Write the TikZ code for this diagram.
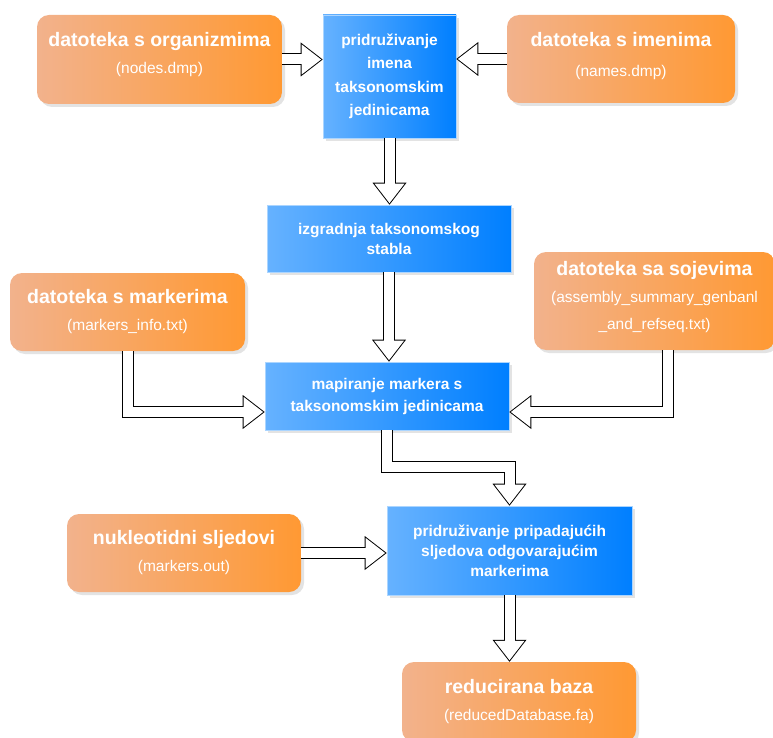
\documentclass[tikz,border=0pt]{standalone}
\usepackage{fontspec}
\setmainfont{Liberation Sans}
\usepackage{tikz}
\usetikzlibrary{arrows.meta,shadows}
\definecolor{orangeL}{HTML}{F2B28C}
\definecolor{orangeR}{HTML}{FF9933}
\definecolor{blueL}{HTML}{66B2FF}
\definecolor{blueR}{HTML}{007FFF}

\begin{document}
\begin{tikzpicture}[x=1pt,y=-1pt,inner sep=0pt,
    file node/.style={rectangle,rounded corners=12pt,left color=orangeL,right color=orangeR,
      text=white,align=center,font=\fontsize{15.5}{27}\selectfont,
      drop shadow={shadow xshift=3pt,shadow yshift=-3pt,fill=black!22}},
    task node/.style={rectangle,left color=blueL,right color=blueR,draw=blueL!55!white,
      line width=0.6pt,text=white,align=center,font=\bfseries\fontsize{15.5}{20}\selectfont,
      drop shadow={shadow xshift=3pt,shadow yshift=-3pt,fill=black!22}},
    flow/.style={line width=12pt,-{Triangle[width=34pt,length=22pt,line width=0pt]},
      postaction={draw=white,line width=10pt,shorten >=1.6pt,
        -{Triangle[width=30pt,length=19.4pt,line width=0pt]}}}]

  \useasboundingbox (0,0) rectangle (773,738);

  % input files
  \node[file node,minimum width=245pt,minimum height=89pt,text depth=14pt] (org) at (159.5,59.5)
    {{\bfseries\fontsize{19.5}{27}\selectfont datoteka s organizmima}\\(nodes.dmp)};
  \node[file node,minimum width=228pt,minimum height=88pt,text depth=10pt] (imena) at (621,59)
    {{\bfseries\fontsize{19.5}{29}\selectfont datoteka s imenima}\\[3pt](names.dmp)};
  \node[file node,minimum width=235pt,minimum height=78pt] (marker) at (127.5,312)
    {{\bfseries\fontsize{19.5}{27}\selectfont datoteka s markerima}\\(markers\_info.txt)};
  \node[file node,minimum width=241pt,minimum height=98pt,text depth=12pt] (sojevi) at (654.5,301)
    {{\bfseries\fontsize{19.5}{27}\selectfont datoteka sa sojevima}\\(assembly\_summary\_genbanl\\\_and\_refseq.txt)};
  \node[file node,minimum width=234pt,minimum height=78pt] (nukleo) at (184,553)
    {{\bfseries\fontsize{19.5}{27}\selectfont nukleotidni sljedovi}\\(markers.out)};
  \node[file node,minimum width=234pt,minimum height=80pt] (baza) at (519,702)
    {{\bfseries\fontsize{19.5}{27}\selectfont reducirana baza}\\(reducedDatabase.fa)};

  % processing steps
  \node[task node,minimum width=133pt,minimum height=123pt,font=\bfseries\fontsize{15.5}{23.5}\selectfont] (imenovanje) at (389.5,76.5)
    {pridruživanje\\imena\\taksonomskim\\jedinicama};
  \node[task node,minimum width=244pt,minimum height=67pt] (stablo) at (389,238.5)
    {izgradnja taksonomskog\\stabla};
  \node[task node,minimum width=244pt,minimum height=68pt,font=\bfseries\fontsize{15.5}{22}\selectfont] (mapiranje) at (387,396)
    {mapiranje markera s\\taksonomskim jedinicama};
  \node[task node,minimum width=245pt,minimum height=89pt] (sljedovi) at (509.5,550.5)
    {pridruživanje pripadajućih\\sljedova odgovarajućim\\markerima};

  % flow
  \draw[flow] (org.east) -- (org.east -| imenovanje.west);
  \draw[flow] (imena.west) -- (imena.west -| imenovanje.east);
  \draw[flow] (imenovanje.south) -- (imenovanje.south |- stablo.north);
  \draw[flow] (stablo.south) -- (stablo.south |- mapiranje.north);
  \draw[flow] (marker.south) |- ([yshift=-16pt]mapiranje.west);
  \draw[flow] ([xshift=13pt]sojevi.south) |- ([yshift=-16pt]mapiranje.east);
  \draw[flow] (mapiranje.south) -- ++(0,37) -| (sljedovi.north);
  \draw[flow] (nukleo.east) -- (nukleo.east -| sljedovi.west);
  \draw[flow] (sljedovi.south) -- (sljedovi.south |- baza.north);
\end{tikzpicture}
\end{document}
